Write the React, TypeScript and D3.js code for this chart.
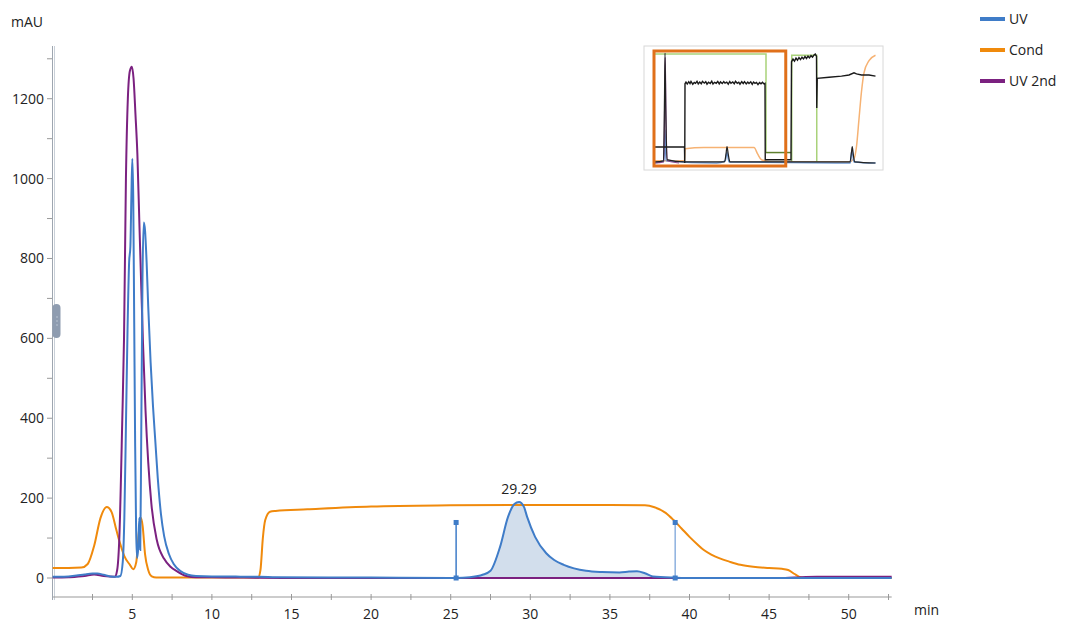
import React from "react";
import * as d3 from "d3";

// ---- chromatogram data (time in min, signal in mAU) ----
const uvPoints: [number, number][] = [
  [0, 3], [0.5, 3], [1, 4], [1.5, 6], [2, 9], [2.5, 11], [2.8, 11], [3.2, 8], [3.6, 4], [4.0, 3],
  [4.25, 5], [4.4, 40], [4.5, 150], [4.6, 380], [4.7, 620], [4.8, 790], [4.88, 830], [4.94, 950],
  [5.0, 1050], [5.06, 950], [5.12, 640], [5.18, 330], [5.24, 120], [5.3, 50], [5.38, 80], [5.44, 150],
  [5.5, 70], [5.56, 350], [5.64, 750], [5.72, 890], [5.8, 870], [5.9, 790], [6.0, 680], [6.15, 540],
  [6.3, 430], [6.45, 340], [6.6, 250], [6.8, 160], [7.0, 105], [7.3, 60], [7.6, 35], [8.0, 18],
  [8.5, 8], [9, 5], [10, 4], [11, 4], [12, 3], [13, 3], [14, 2], [20, 1], [25, 0], [25.34, 0],
  [26.2, 2], [27, 8], [27.5, 18], [28.1, 78], [28.6, 153], [29.0, 185], [29.29, 190], [29.6, 178],
  [29.8, 153], [30.3, 103], [31.0, 62], [31.5, 45], [32.1, 33], [33.5, 18], [34.5, 15], [35.6, 14],
  [36.2, 16], [36.7, 17], [37.2, 12], [37.7, 4], [39.1, 1], [40, 0], [45, 0], [50, 0], [52.7, 0],
];

const condPoints: [number, number][] = [
  [0, 25], [1.0, 25], [1.8, 26], [2.2, 35], [2.6, 80], [3.0, 150], [3.4, 178], [3.7, 165], [4.0, 120],
  [4.23, 87], [4.5, 55], [4.85, 33], [5.06, 22], [5.25, 40], [5.4, 110], [5.55, 150], [5.65, 130],
  [5.8, 60], [6.0, 20], [6.22, 4], [6.5, 1], [10, 1], [12.9, 1], [13.05, 20], [13.2, 100],
  [13.35, 145], [13.65, 166], [14, 168], [16, 172], [20, 179], [25, 182], [30, 183], [35, 183],
  [37.2, 182], [37.8, 177], [38.5, 163], [39, 145], [39.5, 124], [40, 103], [40.5, 84], [40.9, 70],
  [41.4, 58], [41.9, 49], [42.5, 41], [43.2, 33], [44, 28], [45, 25], [45.8, 23], [46.2, 20],
  [46.6, 10], [46.9, 3], [47.2, 0], [52.7, 0],
];

const uv2Points: [number, number][] = [
  [0, 1], [1, 2], [2, 5], [2.6, 9], [3.2, 5], [3.9, 3], [4.05, 20], [4.18, 95], [4.37, 395],
  [4.48, 600], [4.6, 1000], [4.72, 1200], [4.85, 1270], [4.97, 1280], [5.08, 1250], [5.2, 1160],
  [5.32, 1060], [5.45, 880], [5.57, 720], [5.67, 590], [5.83, 420], [6.0, 290], [6.2, 185],
  [6.54, 95], [7.0, 48], [7.4, 28], [7.8, 17], [8.4, 5], [9, 2], [10, 2], [12, 1], [15, 0], [46, 0],
  [47, 2], [48, 3], [52.7, 3],
];

// integration window and annotated peak
const integrationStart = 25.34;
const integrationEnd = 39.1;
const markerHeight = 139;
const peakTime = 29.29;
const peakValue = 190;

const yTickValues = d3.range(0, 1301, 100);
const yLabelValues = [0, 200, 400, 600, 800, 1000, 1200];
const xTickValues = d3.range(2.5, 52.6, 2.5);
const xLabelValues = [5, 10, 15, 20, 25, 30, 35, 40, 45, 50];

const legendItems = [
  { label: "UV", color: "#3f7cc8" },
  { label: "Cond", color: "#f08a0c" },
  { label: "UV 2nd", color: "#7b2180" },
];

// ---- overview (run navigator) data, normalised 0..100 ----
const overviewCond: [number, number][] = [
  [0, 2], [12.2, 2], [12.4, 13], [20, 14], [40, 14], [41.5, 8], [43, 3], [47, 1], [78, 1], [80, 4],
  [81, 15], [82, 40], [83, 65], [84, 82], [86, 93], [88.6, 98],
];
const overviewUV: [number, number][] = [
  [0, 0], [4, 2], [4.4, 30], [4.8, 2], [25, 0], [28.5, 2], [29.2, 10], [30, 1], [78.5, 0],
  [79.2, 12], [80, 1], [88.6, 0],
];
const overviewUV2: [number, number][] = [
  [0, 0], [3.9, 1], [4.3, 60], [4.5, 96], [4.8, 40], [5.4, 2], [10, 0],
];
const overviewAbs: [number, number][] = [
  [0, 1], [3.8, 2], [4.2, 60], [4.4, 100], [4.7, 50], [5.2, 3], [12, 1], [28.2, 1], [28.8, 8],
  [29.2, 15], [29.7, 8], [30.4, 1], [44.5, 1], [78.4, 1], [79, 10], [79.3, 15], [79.7, 8], [80.3, 1],
  [88.6, 0],
];
const overviewPressure: [number, number][] = [
  [0, 14.5], [12.2, 14.5], [12.3, 0], [12.4, 72], [12.8, 73.5], [13.3, 71.8], [13.9, 73.9],
  [14.4, 72.2], [14.8, 74.1], [15.5, 71.6], [16.1, 73.2], [16.6, 72.4], [17.2, 74.3], [17.7, 71.9],
  [18.3, 73.6], [18.9, 72.1], [19.4, 74.2], [20.1, 72.6], [20.7, 73.9], [21.2, 71.7], [21.8, 73.4],
  [22.5, 72.3], [23.1, 74.4], [23.6, 71.8], [24.2, 73.3], [24.9, 72.5], [25.5, 74.2], [26.1, 71.9],
  [26.6, 73.7], [27.3, 72.2], [27.9, 74.0], [28.4, 72.6], [29.1, 73.5], [29.7, 71.7], [30.3, 74.1],
  [30.8, 72.4], [31.5, 73.6], [32.1, 72.0], [32.6, 74.3], [33.3, 72.5], [33.9, 73.4], [34.4, 71.6],
  [35.1, 73.9], [35.7, 72.3], [36.2, 74.0], [36.9, 71.9], [37.5, 73.5], [38.0, 72.2], [38.7, 73.8],
  [39.3, 71.5], [39.8, 73.6], [40.4, 72.4], [41.0, 73.2], [41.6, 71.3], [42.2, 73.1], [42.8, 72.0],
  [43.4, 73.4], [44.0, 71.9], [44.4, 72.4], [44.5, 3], [54.8, 3], [55, 92], [55.6, 94.5],
  [56.2, 92.6], [56.8, 95.3], [57.4, 93.4], [58.0, 95.9], [58.6, 94.0], [59.2, 96.2], [59.8, 94.6],
  [60.4, 96.8], [61.0, 95.0], [61.6, 97.1], [62.2, 95.6], [62.8, 97.6], [63.4, 96.3], [64.0, 98.2],
  [64.5, 99], [65, 97], [65.1, 50], [65.3, 77], [70, 78], [75, 79], [78, 80], [80, 82], [81, 81],
  [83, 80], [86, 80], [88.6, 79],
];
const overviewFracA: [number, number][] = [[0, 0], [0, 99], [44.8, 99], [44.8, 9.5]];
const overviewFracB: [number, number][] = [[44.8, 9.5], [55.1, 9.5]];
const overviewFracC: [number, number][] = [[55.1, 1], [55.1, 98], [65.1, 98], [65.1, 1]];
const overviewWindow: [number, number] = [0, 52.7];

const FONT = "'Open Sans', 'Segoe UI', sans-serif";

export default function App() {
  const x = d3.scaleLinear().domain([0, 52.7]).range([52.7, 891.7]);
  const y = d3.scaleLinear().domain([0, 1330]).range([578, 46.8]);
  const axisY = 597;
  const axisX = 53;

  const line = d3
    .line<[number, number]>()
    .x((d) => x(d[0]))
    .y((d) => y(d[1]))
    .curve(d3.curveMonotoneX);

  const fillPoints = uvPoints.filter((d) => d[0] >= integrationStart && d[0] <= integrationEnd);
  const area = d3
    .area<[number, number]>()
    .x((d) => x(d[0]))
    .y0(y(0))
    .y1((d) => y(d[1]))
    .curve(d3.curveMonotoneX);

  // overview scales
  const ox = d3.scaleLinear().domain([-4, 92]).range([644, 884]);
  const oy = d3.scaleLinear().domain([0, 100]).range([163, 53]);
  const oLine = d3
    .line<[number, number]>()
    .x((d) => ox(d[0]))
    .y((d) => oy(d[1]));
  const oSmooth = d3
    .line<[number, number]>()
    .x((d) => ox(d[0]))
    .y((d) => oy(d[1]))
    .curve(d3.curveMonotoneX);

  const markerColor = "#3f7cc8";
  const sq = 5;

  return (
    <svg
      width={1069}
      height={624}
      style={{ position: "absolute", left: 0, top: 0, background: "#fff" }}
      fontFamily={FONT}
    >
      {/* axis titles */}
      <text x={11} y={27} fontSize={14} fill="#222">mAU</text>
      <text x={914} y={615} fontSize={14} fill="#222">min</text>

      {/* y axis */}
      <line x1={axisX - 0.5} x2={axisX - 0.5} y1={46} y2={axisY + 3} stroke="#9ea6b0" strokeWidth={1} />
      <line x1={axisX + 1.5} x2={axisX + 1.5} y1={46} y2={axisY + 3} stroke="#c9d0d8" strokeWidth={1} />
      {yTickValues.map((v) => (
        <line key={"yt" + v} x1={axisX - 6} x2={axisX - 1} y1={y(v)} y2={y(v)} stroke="#999" strokeWidth={1} />
      ))}
      {yLabelValues.map((v) => (
        <text key={"yl" + v} x={44} y={y(v) + 5} fontSize={14} fill="#222" textAnchor="end">
          {v}
        </text>
      ))}
      {/* zoom handle on the y axis */}
      <rect x={axisX - 0.5} y={304} width={8} height={34} rx={4} fill="#8e9cb0" />
      <line x1={axisX + 4} x2={axisX + 4} y1={316} y2={326} stroke="#b7c2d0" strokeWidth={1} strokeDasharray="2 2" />

      {/* x axis */}
      <line x1={axisX} x2={x(52.7)} y1={axisY} y2={axisY} stroke="#999" strokeWidth={1} />
      {xTickValues.map((v) => (
        <line key={"xt" + v} x1={x(v)} x2={x(v)} y1={axisY - 3} y2={axisY + 3} stroke="#999" strokeWidth={1} />
      ))}
      {xLabelValues.map((v) => (
        <text key={"xl" + v} x={x(v)} y={619} fontSize={14} fill="#222" textAnchor="middle">
          {v}
        </text>
      ))}

      {/* integrated peak area */}
      <path d={area(fillPoints) ?? ""} fill="#d2deec" />

      {/* traces */}
      <path d={line(condPoints) ?? ""} fill="none" stroke="#f08a0c" strokeWidth={2} />
      <path d={line(uv2Points) ?? ""} fill="none" stroke="#7b2180" strokeWidth={2} />
      <path d={line(uvPoints) ?? ""} fill="none" stroke="#3f7cc8" strokeWidth={2} />

      {/* integration limits */}
      {[integrationStart, integrationEnd].map((t, i) => (
        <g key={"m" + t}>
          <line
            x1={x(t)}
            x2={x(t)}
            y1={y(0)}
            y2={y(markerHeight)}
            stroke={markerColor}
            strokeOpacity={i === 0 ? 1 : 0.6}
            strokeWidth={1.5}
          />
          <rect x={x(t) - sq / 2} y={y(markerHeight) - sq / 2} width={sq} height={sq} fill={markerColor} />
          <rect x={x(t) - sq / 2} y={y(0) - sq / 2} width={sq} height={sq} fill={markerColor} />
        </g>
      ))}

      {/* peak label */}
      <text x={x(peakTime)} y={y(peakValue) - 8} fontSize={14} fill="#222" textAnchor="middle">
        {peakTime.toFixed(2)}
      </text>

      {/* legend */}
      {legendItems.map((item, i) => {
        const ly = 19 + i * 31;
        return (
          <g key={item.label}>
            <line x1={980} x2={1005} y1={ly} y2={ly} stroke={item.color} strokeWidth={4} />
            <text x={1009} y={ly + 5} fontSize={14} fill="#222">
              {item.label}
            </text>
          </g>
        );
      })}

      {/* run overview */}
      <g>
        <rect x={644} y={46} width={239} height={124} fill="#fff" stroke="#d8d8d8" strokeWidth={1} />
        <path d={oLine(overviewFracA) ?? ""} fill="none" stroke="#a9d27a" strokeWidth={1.5} />
        <path d={oLine(overviewFracB) ?? ""} fill="none" stroke="#5e7f2e" strokeWidth={1.5} />
        <path d={oLine(overviewFracC) ?? ""} fill="none" stroke="#a9d27a" strokeWidth={1.5} />
        <path d={oSmooth(overviewCond) ?? ""} fill="none" stroke="#f6b273" strokeWidth={1.5} />
        <path d={oSmooth(overviewUV) ?? ""} fill="none" stroke="#6b95cf" strokeWidth={1.5} />
        <path d={oSmooth(overviewUV2) ?? ""} fill="none" stroke="#8a4a90" strokeWidth={1.2} />
        <path d={oLine(overviewPressure) ?? ""} fill="none" stroke="#1a1a1a" strokeWidth={1.4} />
        <path d={oSmooth(overviewAbs) ?? ""} fill="none" stroke="#222" strokeWidth={1.2} />
        <rect
          x={ox(overviewWindow[0])}
          y={51}
          width={ox(overviewWindow[1]) - ox(overviewWindow[0])}
          height={115}
          fill="none"
          stroke="#e0701a"
          strokeWidth={3}
        />
      </g>
    </svg>
  );
}
